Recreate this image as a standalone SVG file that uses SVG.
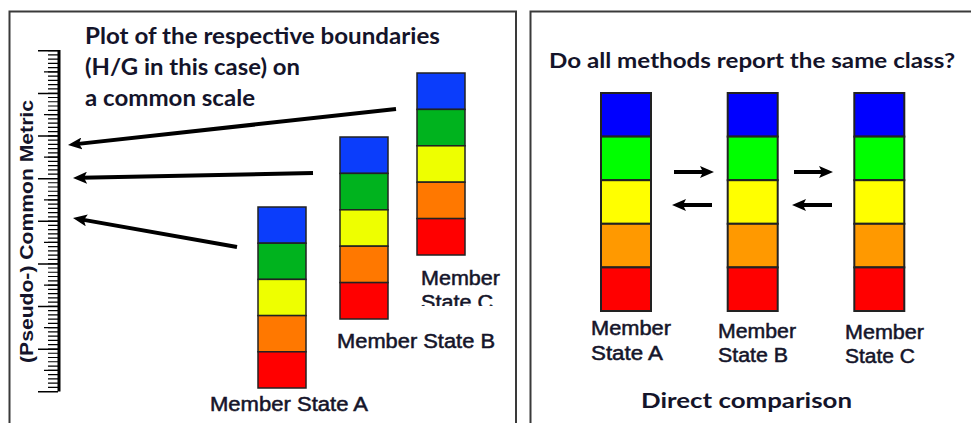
<svg xmlns="http://www.w3.org/2000/svg" width="971" height="423" viewBox="0 0 971 423">
<defs>
<style>
.frame{fill:none;stroke:#3a3a3a;stroke-width:2}
.seg{stroke:#222;stroke-width:1.5}
.segR{stroke:#222;stroke-width:2}
.b1{fill:#0b3dfb}.g1{fill:#00b31e}.y1{fill:#eeff00}.o1{fill:#ff7800}.r1{fill:#ff0000}
.b2{fill:#0000ff}.g2{fill:#00ff00}.y2{fill:#ffff00}.o2{fill:#ff9900}.r2{fill:#ff0000}
.title{font-family:Lato,"Open Sans",sans-serif;font-weight:700;fill:#14142a}
.lab{font-family:"Liberation Sans",Arial,sans-serif;font-size:19.5px;fill:#15152a;stroke:#15152a;stroke-width:0.5}
.axis{font-family:"Liberation Sans",Arial,sans-serif;font-weight:700;font-size:18px;fill:#14142a}
.arr{stroke:#000;stroke-width:4;fill:none;marker-end:url(#ah)}
</style>
<marker id="ah" viewBox="0 0 14 12" refX="6" refY="6" markerWidth="14" markerHeight="12" markerUnits="userSpaceOnUse" orient="auto">
<path d="M0,0 L14,6 L0,12 L3,6 z" fill="#000"/>
</marker>
<clipPath id="clipC"><rect x="400" y="260" width="120" height="46"/></clipPath>
</defs>
<rect width="971" height="423" fill="#fff"/>

<g id="panel-left">
<rect class="frame" x="9.5" y="11.5" width="506.5" height="420"/>
</g>
<g id="panel-right">
<rect class="frame" x="530.5" y="11.5" width="450" height="420"/>
</g>

<g id="title-left">
<text class="title" font-size="22" x="85" y="44" textLength="355" lengthAdjust="spacingAndGlyphs">Plot of the respective boundaries</text>
<text class="title" font-size="22" x="85" y="75" textLength="215" lengthAdjust="spacingAndGlyphs">(H/G in this case) on</text>
<text class="title" font-size="22" x="85" y="106" textLength="170" lengthAdjust="spacingAndGlyphs">a common scale</text>
</g>

<g id="ruler">
<line x1="59" y1="50" x2="59" y2="391.5" stroke="#000" stroke-width="3"/>
<line x1="53" y1="50" x2="53" y2="392" stroke="#000" stroke-width="10" stroke-dasharray="1.2 3.0625"/>
<line x1="51" y1="71.31" x2="51" y2="392" stroke="#000" stroke-width="14" stroke-dasharray="1.3 41.325"/>
<line x1="48" y1="50" x2="48" y2="392.5" stroke="#000" stroke-width="20" stroke-dasharray="1.6 41.025"/>
<text class="axis" transform="translate(33,231.5) rotate(-90)" x="-131.5" y="0" textLength="263" lengthAdjust="spacingAndGlyphs">(Pseudo-) Common Metric</text>
</g>

<g id="bar-left-A">
<rect class="seg b1" x="258" y="207" width="48" height="36.2"/>
<rect class="seg g1" x="258" y="243.2" width="48" height="36.2"/>
<rect class="seg y1" x="258" y="279.4" width="48" height="36.2"/>
<rect class="seg o1" x="258" y="315.6" width="48" height="36.2"/>
<rect class="seg r1" x="258" y="351.8" width="48" height="36.2"/>
<text class="lab" x="210" y="411" textLength="158" lengthAdjust="spacingAndGlyphs">Member State A</text>
</g>
<g id="bar-left-B">
<rect class="seg b1" x="340" y="137" width="48" height="36.4"/>
<rect class="seg g1" x="340" y="173.4" width="48" height="36.4"/>
<rect class="seg y1" x="340" y="209.8" width="48" height="36.4"/>
<rect class="seg o1" x="340" y="246.2" width="48" height="36.4"/>
<rect class="seg r1" x="340" y="282.6" width="48" height="36.4"/>
<text class="lab" x="337" y="348" textLength="158" lengthAdjust="spacingAndGlyphs">Member State B</text>
</g>
<g id="bar-left-C">
<rect class="seg b1" x="417" y="73" width="48" height="36.4"/>
<rect class="seg g1" x="417" y="109.4" width="48" height="36.4"/>
<rect class="seg y1" x="417" y="145.8" width="48" height="36.4"/>
<rect class="seg o1" x="417" y="182.2" width="48" height="36.4"/>
<rect class="seg r1" x="417" y="218.6" width="48" height="36.4"/>
<g clip-path="url(#clipC)">
<text class="lab" x="421" y="285" textLength="79" lengthAdjust="spacingAndGlyphs">Member</text>
<text class="lab" x="421" y="309" textLength="72" lengthAdjust="spacingAndGlyphs">State C</text>
</g>
</g>

<g id="title-right">
<text class="title" font-size="20" x="549" y="68" textLength="406" lengthAdjust="spacingAndGlyphs">Do all methods report the same class?</text>
</g>

<g id="bar-right-A">
<rect class="segR b2" x="601" y="93" width="50" height="43.6"/>
<rect class="segR g2" x="601" y="136.6" width="50" height="43.6"/>
<rect class="segR y2" x="601" y="180.2" width="50" height="43.6"/>
<rect class="segR o2" x="601" y="223.8" width="50" height="43.6"/>
<rect class="segR r2" x="601" y="267.4" width="50" height="43.6"/>
<text class="lab" x="591" y="335" textLength="80" lengthAdjust="spacingAndGlyphs">Member</text>
<text class="lab" x="591" y="360" textLength="72" lengthAdjust="spacingAndGlyphs">State A</text>
</g>
<g id="bar-right-B">
<rect class="segR b2" x="727.7" y="93" width="50" height="43.6"/>
<rect class="segR g2" x="727.7" y="136.6" width="50" height="43.6"/>
<rect class="segR y2" x="727.7" y="180.2" width="50" height="43.6"/>
<rect class="segR o2" x="727.7" y="223.8" width="50" height="43.6"/>
<rect class="segR r2" x="727.7" y="267.4" width="50" height="43.6"/>
<text class="lab" x="718" y="338" textLength="78" lengthAdjust="spacingAndGlyphs">Member</text>
<text class="lab" x="718" y="362" textLength="70" lengthAdjust="spacingAndGlyphs">State B</text>
</g>
<g id="bar-right-C">
<rect class="segR b2" x="854.3" y="93" width="50" height="43.6"/>
<rect class="segR g2" x="854.3" y="136.6" width="50" height="43.6"/>
<rect class="segR y2" x="854.3" y="180.2" width="50" height="43.6"/>
<rect class="segR o2" x="854.3" y="223.8" width="50" height="43.6"/>
<rect class="segR r2" x="854.3" y="267.4" width="50" height="43.6"/>
<text class="lab" x="845" y="338.5" textLength="79" lengthAdjust="spacingAndGlyphs">Member</text>
<text class="lab" x="845" y="363" textLength="70" lengthAdjust="spacingAndGlyphs">State C</text>
</g>

<g id="caption-right">
<text class="title" font-size="21" x="641" y="408" textLength="211" lengthAdjust="spacingAndGlyphs">Direct comparison</text>
</g>

<g id="connectors">
<line class="arr" x1="396" y1="109" x2="75.95" y2="144.13"/>
<line class="arr" x1="313" y1="173" x2="81" y2="177.83"/>
<line class="arr" x1="237" y1="247" x2="80.88" y2="219.39"/>
<line class="arr" x1="674" y1="172" x2="706" y2="172"/>
<line class="arr" x1="794" y1="172" x2="825" y2="172"/>
<line class="arr" x1="712" y1="205" x2="680" y2="205"/>
<line class="arr" x1="832" y1="205" x2="800" y2="205"/>
</g>
</svg>
